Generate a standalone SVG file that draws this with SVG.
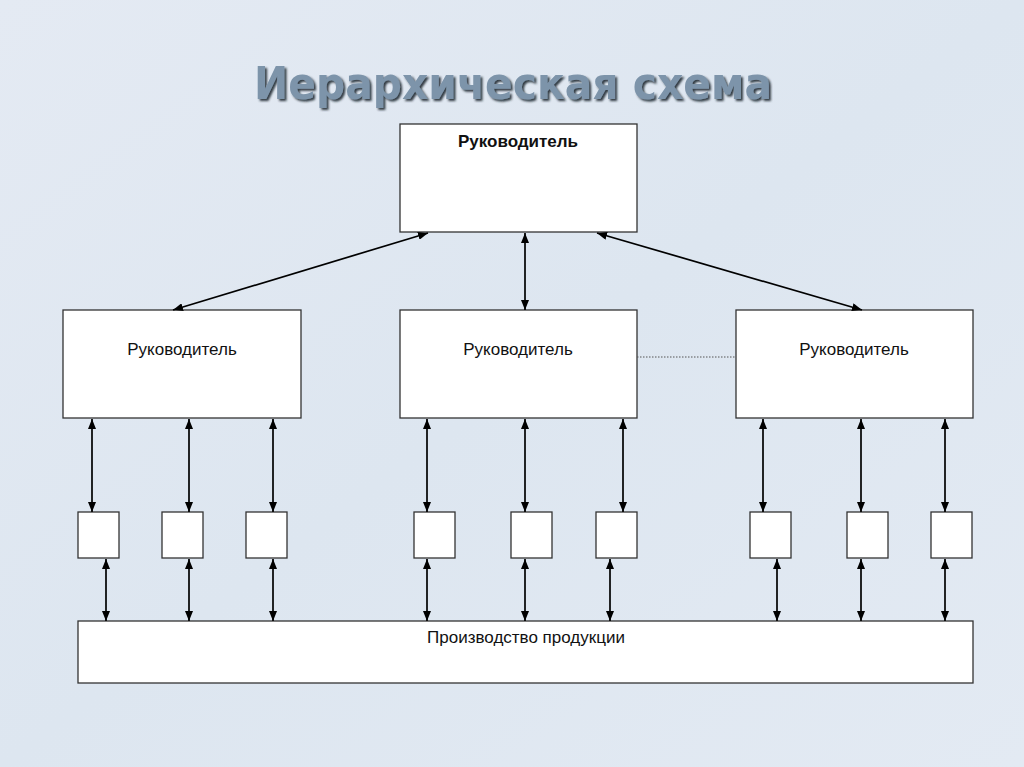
<svg xmlns="http://www.w3.org/2000/svg" width="1024" height="767" viewBox="0 0 1024 767">
<defs>
<linearGradient id="bg" x1="0" y1="0" x2="1" y2="1">
<stop offset="0" stop-color="#e4eaf3"/>
<stop offset="0.5" stop-color="#dde6f0"/>
<stop offset="1" stop-color="#e3eaf3"/>
</linearGradient>
<marker id="ah" viewBox="0 0 10 8" refX="10" refY="4" markerWidth="10" markerHeight="8" markerUnits="userSpaceOnUse" orient="auto-start-reverse">
<path d="M0,0 L10,4 L0,8 Z" fill="#000"/>
</marker>
<filter id="sh" x="-5%" y="-20%" width="110%" height="140%">
<feDropShadow dx="2" dy="2" stdDeviation="0.8" flood-color="#1a2633" flood-opacity="0.9"/>
</filter>
</defs>
<style>
.box{fill:#fff;stroke:#333;stroke-width:1.3}
.lbl{font-family:"Liberation Sans",Arial,sans-serif;font-size:17px;fill:#111;text-anchor:middle}
.b{font-weight:bold}
.con line{stroke:#000;stroke-width:1.7;marker-start:url(#ah);marker-end:url(#ah)}
</style>
<rect width="1024" height="767" fill="url(#bg)"/>
<text x="513" y="99" font-family="'DejaVu Sans',Verdana,sans-serif" font-weight="bold" font-size="45" fill="#7d94aa" text-anchor="middle" textLength="518" lengthAdjust="spacingAndGlyphs" filter="url(#sh)">Иерархическая схема</text>

<g id="top"><rect class="box" x="400" y="124" width="237" height="108"/><text class="lbl b" x="518" y="147">Руководитель</text></g>
<g id="mid1"><rect class="box" x="63" y="310" width="238" height="108"/><text class="lbl" x="182" y="355">Руководитель</text></g>
<g id="mid2"><rect class="box" x="400" y="310" width="237" height="108"/><text class="lbl" x="518" y="355">Руководитель</text></g>
<g id="mid3"><rect class="box" x="736" y="310" width="237" height="108"/><text class="lbl" x="854" y="355">Руководитель</text></g>

<g id="s1"><rect class="box" x="78" y="512" width="41" height="46"/></g>
<g id="s2"><rect class="box" x="162" y="512" width="41" height="46"/></g>
<g id="s3"><rect class="box" x="246" y="512" width="41" height="46"/></g>
<g id="s4"><rect class="box" x="414" y="512" width="41" height="46"/></g>
<g id="s5"><rect class="box" x="511" y="512" width="41" height="46"/></g>
<g id="s6"><rect class="box" x="596" y="512" width="41" height="46"/></g>
<g id="s7"><rect class="box" x="750" y="512" width="41" height="46"/></g>
<g id="s8"><rect class="box" x="847" y="512" width="41" height="46"/></g>
<g id="s9"><rect class="box" x="931" y="512" width="41" height="46"/></g>

<g id="prod"><rect class="box" x="78" y="621" width="895" height="62"/><text class="lbl" x="526" y="643">Производство продукции</text></g>

<g id="connectors" class="con">
<line x1="428" y1="233" x2="173" y2="310"/>
<line x1="525" y1="233" x2="525" y2="310"/>
<line x1="597" y1="233" x2="862" y2="310"/>
<line x1="92" y1="419" x2="92" y2="512"/>
<line x1="189" y1="419" x2="189" y2="512"/>
<line x1="273" y1="419" x2="273" y2="512"/>
<line x1="427" y1="419" x2="427" y2="512"/>
<line x1="525" y1="419" x2="525" y2="512"/>
<line x1="623" y1="419" x2="623" y2="512"/>
<line x1="763" y1="419" x2="763" y2="512"/>
<line x1="861" y1="419" x2="861" y2="512"/>
<line x1="945" y1="419" x2="945" y2="512"/>
<line x1="106" y1="559" x2="106" y2="621"/>
<line x1="189" y1="559" x2="189" y2="621"/>
<line x1="273" y1="559" x2="273" y2="621"/>
<line x1="427" y1="559" x2="427" y2="621"/>
<line x1="525" y1="559" x2="525" y2="621"/>
<line x1="610" y1="559" x2="610" y2="621"/>
<line x1="777" y1="559" x2="777" y2="621"/>
<line x1="861" y1="559" x2="861" y2="621"/>
<line x1="945" y1="559" x2="945" y2="621"/>
<path d="M637,357 H736" stroke="#555" stroke-width="1" stroke-dasharray="1.5,1.5" fill="none"/>
</g>
</svg>
